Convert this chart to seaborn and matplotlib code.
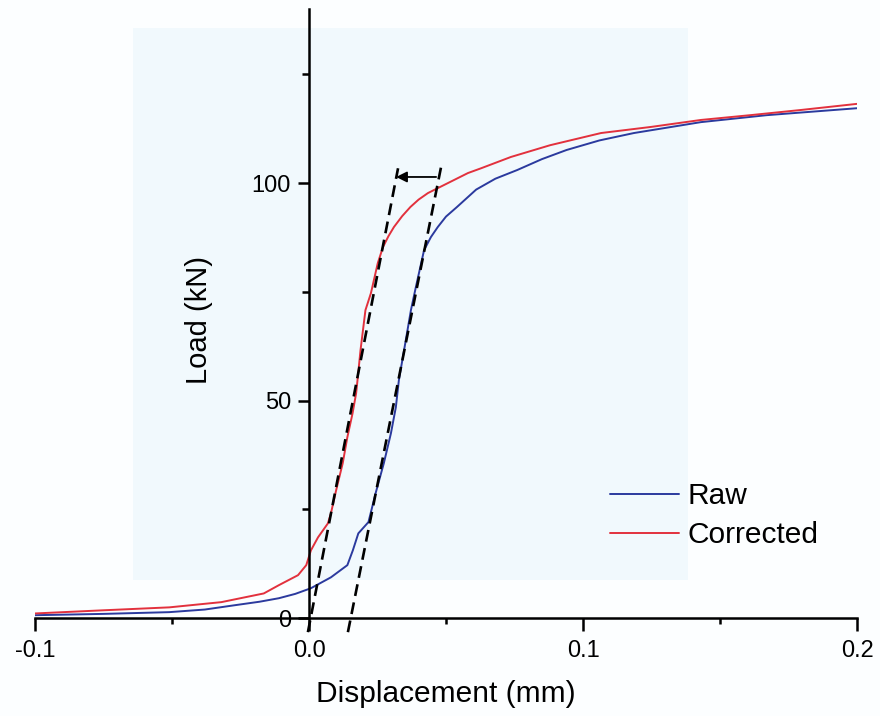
import matplotlib
matplotlib.use("Agg")
import matplotlib.pyplot as plt
from matplotlib.patches import Rectangle
from matplotlib.ticker import MultipleLocator, FixedLocator
import seaborn as sns
import pandas as pd

# ---- data ----
raw_x = [-0.100, -0.075, -0.051, -0.038, -0.027, -0.018, -0.011, -0.005, 0.0007, 0.008, 0.014, 0.016, 0.018,
         0.0217, 0.0243, 0.0273, 0.0299, 0.0317, 0.0328, 0.0347, 0.0372, 0.039, 0.042,
         0.0445, 0.047, 0.050, 0.054, 0.061, 0.068, 0.076, 0.085, 0.094, 0.106, 0.1186, 0.143, 0.167, 0.200]
raw_y = [0.7, 1.0, 1.4, 2.0, 3.0, 3.8, 4.6, 5.6, 6.9, 9.4, 12.2, 15.6, 19.5,
         22.1, 28.7, 35.6, 42.5, 48.5, 54.7, 61.6, 70.8, 76.1, 84.6,
         87.6, 89.9, 92.3, 94.5, 98.5, 101.0, 103.0, 105.5, 107.6, 109.8, 111.5, 114.0, 115.6, 117.2]

corr_x = [-0.100, -0.076, -0.051, -0.032, -0.0165, -0.011, -0.004, -0.001, 0.0007, 0.0033,
          0.0069, 0.008, 0.0099, 0.0123, 0.014, 0.0159, 0.0172, 0.0177, 0.0188, 0.0206,
          0.0226, 0.0251, 0.027, 0.029, 0.031, 0.034, 0.037, 0.040, 0.0434, 0.0507, 0.058, 0.0628, 0.0737,
          0.088, 0.1066, 0.1248, 0.143, 0.161, 0.1796, 0.200]
corr_y = [1.1, 1.8, 2.5, 3.7, 5.7, 7.6, 9.9, 12.2, 15.6, 18.6,
          21.8, 24.1, 29.4, 35.6, 41.6, 47.1, 51.7, 54.7, 61.6, 70.8,
          74.7, 81.6, 85.3, 87.8, 89.9, 92.4, 94.5, 96.2, 97.7, 100.0, 102.3, 103.4, 106.0,
          108.7, 111.5, 112.9, 114.5, 115.6, 116.8, 118.2]

series_names = ["Raw", "Corrected"]
series_colors = ["#2b3a9e", "#e2313d"]

# tangent (stiffness) lines
tan_corr_x = [-0.0004, 0.0325]
tan_corr_y = [-3.2, 103.4]
tan_raw_x = [0.0142, 0.0482]
tan_raw_y = [-3.2, 103.7]
arrow_x = [0.0464, 0.0318]
arrow_y = [101.4, 101.4]

x_ticks = [-0.1, 0.0, 0.1, 0.2]
x_tick_labels = ["-0.1", "0.0", "0.1", "0.2"]
y_ticks = [0, 50, 100]
y_tick_labels = ["0", "50", "100"]

df = pd.concat([
    pd.DataFrame({"Displacement": raw_x, "Load": raw_y, "series": series_names[0]}),
    pd.DataFrame({"Displacement": corr_x, "Load": corr_y, "series": series_names[1]}),
], ignore_index=True)

# ---- style ----
sns.set_style("ticks")
plt.rcParams["font.family"] = ["Liberation Sans", "DejaVu Sans"]
plt.rcParams["text.color"] = "black"
plt.rcParams["xtick.color"] = "black"
plt.rcParams["ytick.color"] = "black"

fig = plt.figure(figsize=(8.8, 7.16), dpi=100)
fig.patch.set_facecolor("#fcfeff")
# pale scanned background tint
fig.patches.append(Rectangle((133 / 880, 1 - 580 / 716), (688 - 133) / 880, (580 - 28) / 716,
                             transform=fig.transFigure, facecolor="#f1f9fd",
                             edgecolor="none", zorder=-10))

ax = fig.add_axes([35 / 880, 76 / 716, 822 / 880, 631 / 716])
ax.set_facecolor("none")

sns.lineplot(data=df, x="Displacement", y="Load", hue="series",
             palette=dict(zip(series_names, series_colors)), estimator=None,
             sort=False, linewidth=1.4, ax=ax, legend=True)

dash = (0, (4.5, 2.5))
ax.plot(tan_corr_x, tan_corr_y, color="black", linestyle=dash, linewidth=1.9, clip_on=False)
ax.plot(tan_raw_x, tan_raw_y, color="black", linestyle=dash, linewidth=1.9, clip_on=False)
ax.annotate("", xy=(arrow_x[1], arrow_y[1]), xytext=(arrow_x[0], arrow_y[0]),
            arrowprops=dict(arrowstyle="-|>", color="black", lw=1.3, mutation_scale=16,
                            shrinkA=0, shrinkB=0))

ax.set_xlim(-0.1, 0.2)
ax.set_ylim(-5, 140)

for s in ["top", "right"]:
    ax.spines[s].set_visible(False)
ax.spines["left"].set_position(("data", 0))
ax.spines["bottom"].set_position(("data", 0))
ax.spines["left"].set_bounds(0, 140)
ax.spines["bottom"].set_bounds(-0.1, 0.2)
for s in ["left", "bottom"]:
    ax.spines[s].set_linewidth(1.8)
    ax.spines[s].set_color("black")

ax.xaxis.set_major_locator(FixedLocator(x_ticks))
ax.set_xticklabels(x_tick_labels)
ax.xaxis.set_minor_locator(MultipleLocator(0.05))
ax.yaxis.set_major_locator(FixedLocator(y_ticks))
ax.set_yticklabels(y_tick_labels)
ax.yaxis.set_minor_locator(FixedLocator([25, 75, 125]))

ax.tick_params(axis="x", which="major", direction="out", length=9, width=1.8, labelsize=17, pad=7,
               colors="black")
ax.tick_params(axis="x", which="minor", direction="out", length=4.5, width=1.8, colors="black")
ax.tick_params(axis="y", which="major", direction="out", length=8, width=1.8, labelsize=17, pad=5,
               colors="black")
ax.tick_params(axis="y", which="minor", direction="out", length=5, width=1.8, colors="black")

ax.set_xlabel("")
ax.set_ylabel("")
fig.text(446 / 880, 1 - 694 / 716, "Displacement (mm)", fontsize=21.5,
         ha="center", va="center", color="black")
fig.text(199 / 880, 1 - 320 / 716, "Load (kN)", fontsize=21, rotation=90,
         ha="center", va="center", color="black")

leg = ax.legend(frameon=False, fontsize=21.5, handlelength=2.3, handletextpad=0.3,
                labelspacing=0.38, borderpad=0, borderaxespad=0,
                loc="upper left", bbox_to_anchor=(610 / 880, 1 - 482 / 716),
                bbox_transform=fig.transFigure)
for line in leg.get_lines():
    line.set_linewidth(1.4)
for t in leg.get_texts():
    t.set_color("black")

fig.savefig("out.png", dpi=100, facecolor=fig.get_facecolor())
